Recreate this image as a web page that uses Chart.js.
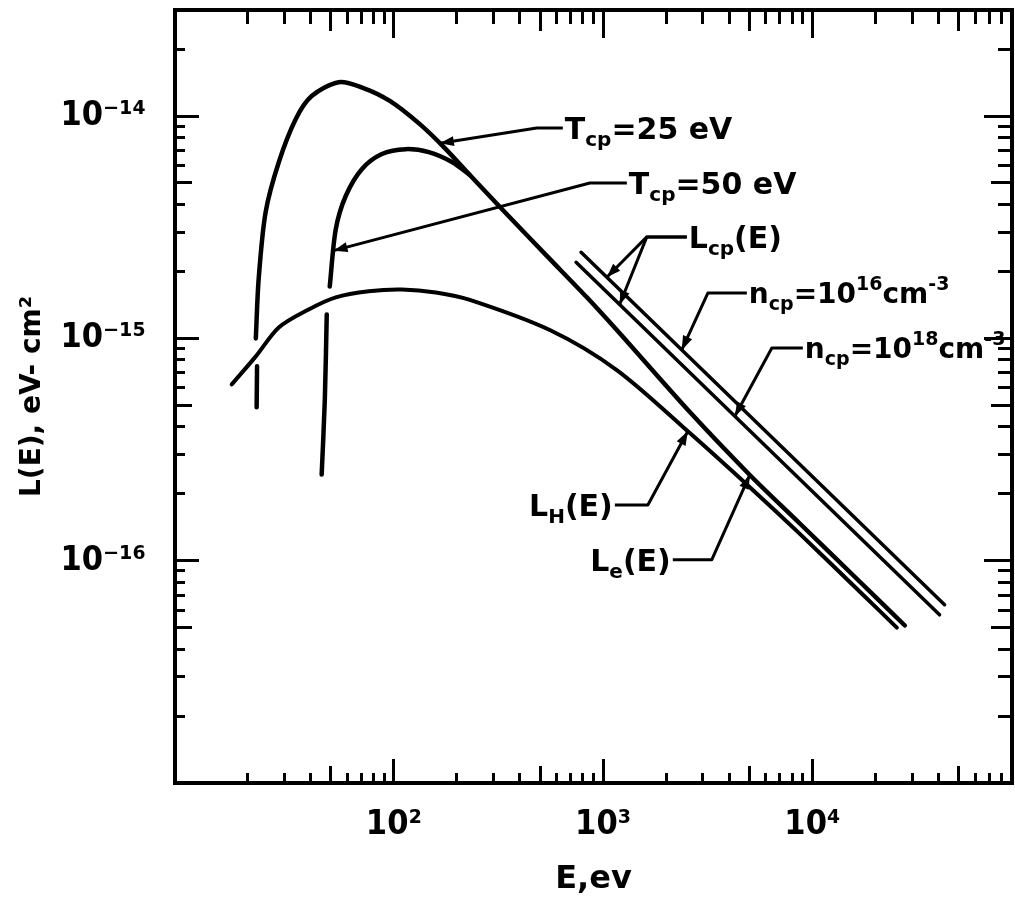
<!DOCTYPE html>
<html>
<head>
<meta charset="utf-8">
<script src="https://cdn.jsdelivr.net/npm/chart.js@4.4.1/dist/chart.umd.min.js"></script>
<style>
  html, body { margin: 0; padding: 0; background: #fff; }
</style>
</head>
<body>
<canvas id="lossChart" width="1015" height="903"></canvas>
<script>
// E in eV, L(E) in eV cm^2 (null = gap where a curve is broken)
var t25E = [22.1, 22.2, 22.15, 21.9, 22.6, 24.4, 28.2, 34.0, 40.5, 54.5, 71.1, 95.7, 133.1, 175.3, 230.8, 331.8, 538.5, 836.3, 1163, 2598, 5026, 8716, 16870, 27680];
var t25L = [4.9e-16, 7.5e-16, null, 1.0e-15, 1.85e-15, 3.7e-15, 6.2e-15, 9.7e-15, 1.23e-14, 1.42e-14, 1.34e-14, 1.17e-14, 9.2e-15, 7.18e-15, 5.43e-15, 3.78e-15, 2.35e-15, 1.53e-15, 1.09e-15, 4.66e-16, 2.43e-16, 1.47e-16, 8.04e-17, 5.11e-17];

var t50E = [45.2, 46.8, 47.8, 48.5, 49.4, 52.8, 58.9, 70.3, 87.7, 114.1, 146.9, 189.6, 230.8];
var t50L = [2.44e-16, 5.3e-16, 1.28e-15, null, 1.71e-15, 3.1e-15, 4.37e-15, 5.77e-15, 6.75e-15, 7.1e-15, 6.88e-15, 6.21e-15, 5.43e-15];

var lhE = [16.8, 21.9, 28.2, 39.2, 52.8, 75.9, 109.2, 158.8, 230.8, 556.5, 1163, 2598, 5026, 8716, 16870, 25340];
var lhL = [6.21e-16, 8.3e-16, 1.12e-15, 1.35e-15, 1.53e-15, 1.63e-15, 1.66e-15, 1.61e-15, 1.49e-15, 1.09e-15, 7.2e-16, 3.75e-16, 2.14e-16, 1.32e-16, 7.25e-17, 5.0e-17];

var lcp16E = [785, 42850];
var lcp16L = [2.44e-15, 6.34e-17];
var lcp18E = [743, 40550];
var lcp18L = [2.2e-15, 5.71e-17];

// axes
var xMin = 9, xMax = 9e4, yMin = 1e-17, yMax = 3e-14;
var xFirstTick = 20;
var xDecades = [10, 100, 1000, 10000];
var yDecades = [1e-17, 1e-16, 1e-15, 1e-14];
var mantissas = [1, 2, 3, 4, 5, 6, 7, 8, 9];
var xLabelValues = [100, 1000, 10000];
var xLabelText = ['10²', '10³', '10⁴'];
var yLabelValues = [1e-14, 1e-15, 1e-16];
var yLabelText = ['10⁻¹⁴', '10⁻¹⁵', '10⁻¹⁶'];

var FONT = "'DejaVu Sans', sans-serif";
var FONT_C = "'DejaVu Sans Condensed', 'DejaVu Sans', sans-serif";

function tickList(decades, min, max) {
  var out = [];
  decades.forEach(function(d) {
    mantissas.forEach(function(m) {
      var v = m * d;
      if (v >= min * 0.999 && v <= max * 1.001) out.push(v);
    });
  });
  return out;
}
var xTicks = tickList(xDecades, xFirstTick, xMax);
var yTicks = tickList(yDecades, yMin, yMax);

function labelFor(v, values, texts) {
  for (var i = 0; i < values.length; i++) {
    if (Math.abs(Math.log10(v) - Math.log10(values[i])) < 1e-6) return texts[i];
  }
  return '';
}

function tickLen(c) {
  if (!c || !c.tick) return 12;
  var v = c.tick.value;
  var m = Math.round(v / Math.pow(10, Math.floor(Math.log10(v) + 1e-9)));
  return m === 1 ? 26 : (m === 5 ? 19 : 12);
}

function pts(E, L) {
  return E.map(function(e, i) { return {x: e, y: L[i]}; });
}

function noPad(s) {
  s.paddingLeft = 0; s.paddingRight = 0; s.paddingTop = 0; s.paddingBottom = 0;
}

// labels with leader lines: anchor = where the text starts, elbow = bend, tips = [dataset, E]
var notes = [
  {text: [['T', 0], ['cp', 1], ['=25 eV', 0]], size: 30, side: 'left', anchor: [642, 8.83e-15], elbow: [482, 8.83e-15], tips: [[0, 166]]},
  {text: [['T', 0], ['cp', 1], ['=50 eV', 0]], size: 30, side: 'left', anchor: [1299, 5.0e-15], elbow: [865, 5.0e-15], tips: [[1, 51.5]]},
  {text: [['L', 0], ['cp', 1], ['(E)', 0]], size: 30, side: 'left', anchor: [2512, 2.86e-15], elbow: [1618, 2.86e-15], tips: [[3, 1042], [4, 1200]]},
  {text: [['n', 0], ['cp', 1], ['=10', 0], ['16', 2], ['cm', 0], ['-3', 2]], size: 28, side: 'left', anchor: [4864, 1.6e-15], elbow: [3167, 1.6e-15], tips: [[3, 2377]]},
  {text: [['n', 0], ['cp', 1], ['=10', 0], ['18', 2], ['cm', 0], ['-3', 2]], size: 28, side: 'left', anchor: [9009, 9.05e-16], elbow: [6405, 9.05e-16], tips: [[4, 4263]]},
  {text: [['L', 0], ['H', 1], ['(E)', 0]], size: 30, side: 'right', anchor: [1138, 1.78e-16], elbow: [1637, 1.78e-16], tips: [[2, 2541]]},
  {text: [['L', 0], ['e', 1], ['(E)', 0]], size: 30, side: 'right', anchor: [2154, 1.01e-16], elbow: [3309, 1.01e-16], tips: [[0, 5026]]}
];

function runFont(size, kind) {
  return 'bold ' + (kind === 0 ? size : Math.round(size * 0.68)) + 'px ' + FONT;
}
function runShift(size, kind) {
  return kind === 1 ? size * 0.25 : (kind === 2 ? -size * 0.46 : 0);
}

function valueAt(chart, di, e) {
  var d = chart.data.datasets[di].data;
  for (var i = d.length - 1; i > 0; i--) {
    var a = d[i - 1], b = d[i];
    if (a.y == null || b.y == null) continue;
    if ((e - a.x) * (e - b.x) <= 0) {
      var t = (Math.log(e) - Math.log(a.x)) / (Math.log(b.x) - Math.log(a.x));
      return Math.exp(Math.log(a.y) + t * (Math.log(b.y) - Math.log(a.y)));
    }
  }
  return null;
}

var notePlugin = {
  id: 'notes',
  afterDraw: function(chart) {
    var ctx = chart.ctx, xs = chart.scales.x, ys = chart.scales.y;
    ctx.save();
    ctx.strokeStyle = '#000';
    ctx.fillStyle = '#000';
    ctx.lineWidth = 3;
    ctx.lineJoin = 'round';
    notes.forEach(function(n) {
      var ax = xs.getPixelForValue(n.anchor[0]), ay = ys.getPixelForValue(n.anchor[1]);
      var ex = xs.getPixelForValue(n.elbow[0]), ey = ys.getPixelForValue(n.elbow[1]);
      n.tips.forEach(function(t) {
        var tx = xs.getPixelForValue(t[1]), ty = ys.getPixelForValue(valueAt(chart, t[0], t[1]));
        ctx.beginPath();
        ctx.moveTo(ax, ay);
        ctx.lineTo(ex, ey);
        ctx.lineTo(tx, ty);
        ctx.stroke();
        var ang = Math.atan2(ty - ey, tx - ex);
        ctx.beginPath();
        ctx.moveTo(tx, ty);
        ctx.lineTo(tx - 14 * Math.cos(ang) + 5 * Math.sin(ang), ty - 14 * Math.sin(ang) - 5 * Math.cos(ang));
        ctx.lineTo(tx - 14 * Math.cos(ang) - 5 * Math.sin(ang), ty - 14 * Math.sin(ang) + 5 * Math.cos(ang));
        ctx.closePath();
        ctx.fill();
      });
      var w = 0;
      n.text.forEach(function(r) {
        ctx.font = runFont(n.size, r[1]);
        w += ctx.measureText(r[0]).width;
      });
      var x = n.side === 'left' ? ax + 2 : ax - 2 - w;
      var base = ay + n.size * 0.36;
      ctx.textBaseline = 'alphabetic';
      ctx.textAlign = 'left';
      n.text.forEach(function(r) {
        ctx.font = runFont(n.size, r[1]);
        ctx.fillText(r[0], x, base + runShift(n.size, r[1]));
        x += ctx.measureText(r[0]).width;
      });
    });
    ctx.restore();
  }
};

var lineStyle = {borderColor: '#000', pointRadius: 0, fill: false, spanGaps: false,
  borderCapStyle: 'round', borderJoinStyle: 'round', xAxisID: 'x', yAxisID: 'y'};

function ds(label, data, width, tension) {
  return Object.assign({label: label, data: data, borderWidth: width, tension: tension}, lineStyle);
}

var chart = new Chart(document.getElementById('lossChart'), {
  type: 'line',
  data: {
    datasets: [
      ds('Tcp = 25 eV', pts(t25E, t25L), 4.5, 0.3),
      ds('Tcp = 50 eV', pts(t50E, t50L), 4.5, 0.3),
      ds('LH(E)', pts(lhE, lhL), 4, 0.3),
      ds('Lcp(E), ncp = 1e16 cm-3', pts(lcp16E, lcp16L), 3.5, 0),
      ds('Lcp(E), ncp = 1e18 cm-3', pts(lcp18E, lcp18L), 3.5, 0)
    ]
  },
  options: {
    responsive: false,
    animation: false,
    layout: {padding: {top: 10, right: 3, bottom: 0, left: 0}},
    plugins: {legend: {display: false}, tooltip: {enabled: false}},
    scales: {
      x: {
        type: 'logarithmic', position: 'bottom', min: xMin, max: xMax,
        afterBuildTicks: function(s) { s.ticks = xTicks.map(function(v) { return {value: v}; }); },
        afterFit: function(s) { s.height = 120; noPad(s); },
        ticks: {autoSkip: false, maxRotation: 0, minRotation: 0, padding: 52, color: '#000',
          font: {family: FONT_C, size: 34, weight: 'bold'},
          callback: function(v) { return labelFor(v, xLabelValues, xLabelText); }},
        grid: {drawOnChartArea: false, drawTicks: true, tickLength: -30, tickWidth: 3, lineWidth: 3, tickColor: '#000',
          tickBorderDash: function(c) { return [tickLen(c), 200]; }},
        border: {display: true, width: 4, color: '#000'},
        title: {display: true, text: 'E,ev', color: '#000', font: {family: FONT, size: 32, weight: 'bold'}, padding: {top: 0, bottom: 4}}
      },
      y: {
        type: 'logarithmic', position: 'left', min: yMin, max: yMax,
        afterBuildTicks: function(s) { s.ticks = yTicks.map(function(v) { return {value: v}; }); },
        afterFit: function(s) { s.width = 175; noPad(s); },
        ticks: {autoSkip: false, padding: 59, color: '#000',
          font: {family: FONT_C, size: 34, weight: 'bold'},
          callback: function(v) { return labelFor(v, yLabelValues, yLabelText); }},
        grid: {drawOnChartArea: false, drawTicks: true, tickLength: -30, tickWidth: 3, lineWidth: 3, tickColor: '#000',
          tickBorderDash: function(c) { var l = tickLen(c); return [l, 32 - l]; },
          tickBorderDashOffset: function(c) { return tickLen(c); }},
        border: {display: true, width: 4, color: '#000'},
        title: {display: true, text: 'L(E), eV- cm²', color: '#000', font: {family: FONT, size: 28, weight: 'bold'}, padding: {top: 16, bottom: 0}}
      },
      xTop: {
        type: 'logarithmic', axis: 'x', position: {y: yMax}, min: xMin, max: xMax,
        afterBuildTicks: function(s) { s.ticks = xTicks.map(function(v) { return {value: v}; }); },
        afterFit: noPad,
        ticks: {display: false, autoSkip: false},
        grid: {drawOnChartArea: false, drawTicks: true, tickLength: 30, tickWidth: 3, lineWidth: 3, tickColor: '#000',
          tickBorderDash: function(c) { return [tickLen(c), 200]; }},
        border: {display: true, width: 4, color: '#000'}
      },
      yRight: {
        type: 'logarithmic', axis: 'y', position: {x: xMax}, min: yMin, max: yMax,
        afterBuildTicks: function(s) { s.ticks = yTicks.map(function(v) { return {value: v}; }); },
        afterFit: noPad,
        ticks: {display: false, autoSkip: false},
        grid: {drawOnChartArea: false, drawTicks: true, tickLength: 30, tickWidth: 3, lineWidth: 3, tickColor: '#000',
          tickBorderDash: function(c) { return [tickLen(c), 200]; }},
        border: {display: true, width: 4, color: '#000'}
      }
    }
  },
  plugins: [notePlugin]
});
</script>
</body>
</html>
